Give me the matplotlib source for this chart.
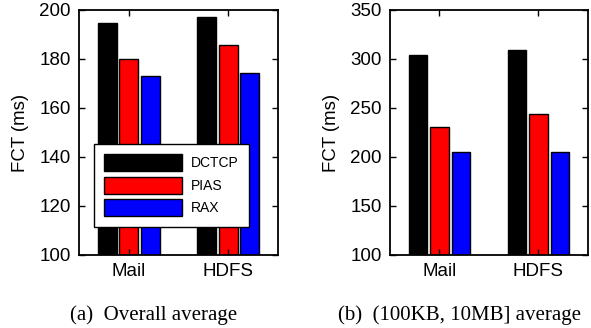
import numpy as np
import matplotlib.pyplot as plt
from matplotlib.patches import Patch

plt.rcParams['font.family'] = ['Liberation Sans', 'DejaVu Sans']

workloads = ['Mail', 'HDFS']
schemes = ['DCTCP', 'PIAS', 'RAX']
colors = ['black', 'red', 'blue']

# overall average FCT (ms)
overall = {'DCTCP': [194.8, 197.3], 'PIAS': [180.0, 185.8], 'RAX': [173.1, 174.4]}
# (100KB, 10MB] average FCT (ms)
medium = {'DCTCP': [304, 309], 'PIAS': [231, 244], 'RAX': [205, 204.8]}

fig = plt.figure(figsize=(5.91, 3.28), dpi=100)
ax1 = fig.add_axes([0.1337, 0.2226, 0.3367, 0.747])
ax2 = fig.add_axes([0.6599, 0.2226, 0.335, 0.747])

x = np.arange(1, len(workloads) + 1)
w = 0.19
step = 0.217

def draw(ax, data, ylim, yticks):
    for i, s in enumerate(schemes):
        ax.bar(x + (i - 1) * step, data[s], width=w, color=colors[i],
               edgecolor='black', linewidth=1.0)
    ax.set_xlim(0.5, 2.5)
    ax.set_ylim(*ylim)
    ax.set_yticks(yticks)
    ax.set_xticks(x)
    ax.set_xticklabels(workloads)
    ax.tick_params(direction='in', top=True, right=True, length=4,
                   labelsize=13.5, width=1.0, pad=6)
    for sp in ax.spines.values():
        sp.set_linewidth(1.3)
    ax.set_ylabel('FCT (ms)', fontsize=13.4, labelpad=7)

draw(ax1, overall, (100, 200), [100, 120, 140, 160, 180, 200])
draw(ax2, medium, (100, 350), [100, 150, 200, 250, 300, 350])

serif = ['Liberation Serif', 'DejaVu Serif']
fig.text(0.259, 0.024, '(a)  Overall average', ha='center', va='baseline',
         fontsize=15, family=serif)
fig.text(0.777, 0.024, '(b)  (100KB, 10MB] average', ha='center', va='baseline',
         fontsize=15, family=serif)

handles = [Patch(facecolor=c, edgecolor='black', linewidth=1.0) for c in colors]
leg = ax1.legend(handles, schemes, loc='upper left', bbox_to_anchor=(0.075, 0.453),
                 borderaxespad=0, fontsize=10, handlelength=5.6, handleheight=1.5,
                 labelspacing=0.4, borderpad=0.75, handletextpad=0.6, fancybox=False,
                 framealpha=1, edgecolor='black')
leg.get_frame().set_linewidth(1.0)

fig.savefig('out.png', dpi=100)
